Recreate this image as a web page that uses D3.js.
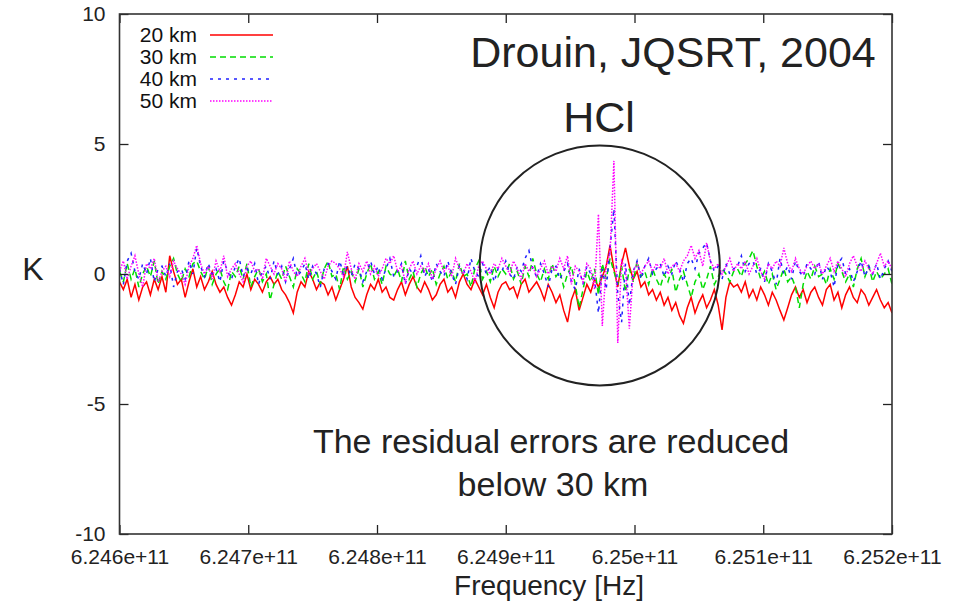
<!DOCTYPE html>
<html>
<head>
<meta charset="utf-8">
<script src="https://cdn.jsdelivr.net/npm/d3@7"></script>
<style>
  body { margin: 0; background: #fff; }
  svg { display: block; font-family: "Liberation Sans", Arial, sans-serif; }
</style>
</head>
<body>
<div class="chart"></div>
<script>
// frequency grid (Hz)
var freqStart = 6.246e11, freqStep = 3e6;

var km20 = [
  -0.3,-0.6,-0.2,-0.9,-0.4,-1.0,-0.5,-0.3,-0.8,-0.2,-0.6,-0.1,-0.7,0.7,0.1,-0.4,-0.2,-0.9,-0.3,0.2,
  -0.5,-0.1,-0.6,-0.3,0.1,-0.4,-0.7,-0.5,-0.9,-1.2,-0.8,-0.3,-0.5,0.0,-0.6,-0.2,-0.4,-0.7,-0.3,-0.1,
  -0.4,-0.2,-0.6,-0.8,-1.1,-1.5,-0.7,-0.3,-0.5,0.1,-0.2,-0.6,-0.3,-0.4,-0.8,-0.5,-1.0,-0.6,-0.2,0.3,
  -0.5,-0.9,-1.1,-1.35,-0.8,-0.4,-0.6,-0.2,-0.7,-0.5,-0.9,-1.0,-0.6,-0.3,-0.8,-0.4,-0.1,-0.5,-0.7,-0.3,
  -0.6,-1.0,-0.8,-0.4,-0.2,-0.7,-0.5,-0.9,-0.3,0.0,-0.4,-0.6,-0.2,-0.5,-0.8,-0.4,-0.9,-1.3,-0.7,-0.4,
  -0.3,-0.6,-0.5,-0.9,-0.4,-0.2,-0.7,-0.5,-0.3,-0.6,-1.0,-0.4,-0.7,-1.1,-0.8,-1.4,-1.85,-1.0,-0.6,-1.4,
  -0.9,-0.4,-0.7,-0.2,-0.5,-0.1,0.3,1.1,0.2,-0.5,0.4,1.0,0.3,-0.2,0.1,-0.5,-0.3,-0.8,-0.6,-1.0,
  -0.7,-1.2,-0.9,-1.4,-1.1,-1.6,-1.9,-1.3,-0.9,-1.5,-1.1,-0.8,-1.3,-1.0,-0.6,-1.2,-2.15,-0.9,-0.3,-0.5,
  -0.4,-0.7,-0.3,-0.9,-0.6,-1.0,-0.5,-0.8,-1.2,-0.7,-1.0,-1.4,-1.77,-1.3,-0.8,-0.5,-0.9,-0.6,-1.1,-0.7,
  -0.5,-0.9,-1.2,-0.6,-0.4,-1.0,-0.7,-1.3,-0.8,-0.5,-0.9,-1.1,-0.6,-0.8,-1.2,-0.9,-0.6,-1.0,-1.3,-1.1,-1.5
];
var km30 = [
  0.1,-0.3,0.4,-0.2,0.2,-0.5,0.0,0.3,-0.1,0.5,-0.4,0.1,-0.2,0.3,0.6,0.0,-0.3,0.2,-0.1,0.4,
  0.5,0.1,-0.2,0.3,-0.4,0.0,0.2,-0.3,-0.6,0.1,-0.1,0.3,-0.2,0.4,-0.5,-0.1,0.2,-0.3,0.0,-1.0,
  -0.4,0.1,-0.2,0.3,-0.1,-0.5,0.2,0.0,-0.3,0.4,-0.2,0.1,-0.4,0.2,0.5,-0.1,0.0,-0.6,0.3,-0.2,
  0.1,-0.3,0.2,-0.5,0.0,0.4,-0.2,0.1,-0.4,0.3,0.0,-0.1,0.2,-0.3,0.5,-0.2,0.1,-0.5,0.0,0.3,
  -0.1,0.2,-0.4,0.0,0.3,-0.2,0.1,-0.3,0.4,-0.1,0.0,-0.5,0.2,0.5,-0.2,0.1,-0.3,0.3,-0.1,0.2,
  0.0,0.4,-0.2,0.1,-0.4,0.3,-0.1,0.6,0.0,-0.3,0.2,-0.2,0.4,-0.1,0.1,-0.5,0.0,0.3,-0.4,-1.3,
  -0.6,0.1,-0.3,0.2,-0.8,0.4,-0.2,0.6,0.1,-0.4,0.3,-0.7,0.2,-0.3,0.5,-0.1,0.1,-0.4,0.2,-0.2,
  -0.5,0.0,-0.3,0.2,-0.7,-0.2,0.1,-0.4,-0.9,-0.3,0.0,-0.6,-0.2,0.3,-0.4,-0.1,0.2,0.0,-0.3,0.1,
  0.2,-0.1,0.4,0.6,0.9,0.3,-0.2,0.1,-0.4,0.0,-0.6,-0.2,0.2,-0.3,-0.1,-0.5,-1.3,-0.4,0.1,-0.2,
  0.3,-0.1,0.0,-0.4,0.2,-0.2,0.4,0.1,-0.3,0.0,-0.5,0.2,0.6,-0.1,0.3,-0.3,0.1,-0.2,0.0,0.2,-0.4
];
var km40 = [
  0.2,-0.4,0.5,0.8,0.1,-0.2,0.4,0.0,0.6,-0.3,0.2,0.3,-0.1,0.4,-0.5,0.1,0.2,-0.2,0.5,0.0,
  1.0,0.3,-0.1,0.4,0.0,0.2,-0.3,0.5,0.1,-0.2,0.3,0.6,-0.1,0.2,0.0,0.4,-0.4,0.1,0.3,-0.2,
  0.5,0.0,0.3,-0.3,0.2,0.6,-0.1,0.1,0.4,-0.2,0.3,0.0,-0.5,0.2,0.4,0.1,-0.2,0.5,0.0,0.3,
  -0.1,0.4,0.2,-0.3,0.1,0.5,0.0,0.3,-0.2,0.2,0.6,-0.1,0.1,0.4,-0.4,0.2,0.0,0.3,0.7,-0.1,
  0.2,-0.3,0.4,0.1,-0.1,0.5,0.0,-0.4,0.3,0.2,-0.2,0.6,0.1,-0.1,0.4,0.0,0.3,-0.3,0.2,0.1,
  0.5,0.0,-0.2,0.3,0.1,0.6,0.9,0.2,-0.1,0.4,0.0,-0.5,0.2,0.3,-0.2,0.1,0.4,-0.3,-0.6,0.2,
  -0.4,0.3,0.0,-0.2,-1.5,0.2,-0.6,1.0,2.5,-0.8,-1.85,0.4,-1.2,0.1,0.5,-0.2,0.3,0.6,0.0,0.2,
  0.4,-0.1,0.3,0.0,0.5,0.2,-0.3,0.4,0.6,0.2,0.8,1.0,1.2,0.5,0.1,0.3,-0.2,0.4,0.0,0.2,
  0.3,0.7,0.1,0.4,0.5,0.0,0.2,-0.3,0.4,0.1,-0.4,0.6,0.0,0.3,-0.2,0.5,0.1,-0.1,0.4,0.2,
  0.0,0.5,-0.2,0.3,0.1,-0.5,0.4,0.6,0.0,0.2,-0.3,0.1,0.5,-0.1,0.3,0.0,0.4,-0.2,0.2,0.5,0.1
];
var km50 = [
  0.1,0.5,-0.2,0.3,0.7,0.0,-0.5,0.4,0.2,0.6,-0.3,0.1,0.3,-0.1,0.5,0.2,0.0,-0.4,0.3,0.6,
  1.1,0.4,0.0,0.3,-0.2,0.5,0.1,0.7,-0.1,0.2,0.4,0.0,-0.3,0.3,0.5,0.1,0.2,-0.2,0.6,0.3,
  0.0,0.4,0.2,-0.3,0.5,0.1,-0.1,0.3,0.6,0.0,0.2,0.4,0.1,-0.2,0.3,0.5,0.4,0.2,-0.1,0.85,
  0.2,-0.2,0.4,0.1,0.5,0.0,0.3,-0.1,0.2,0.6,0.4,0.7,0.1,0.3,-0.3,0.2,0.5,0.0,0.3,0.1,
  0.4,-0.2,0.2,0.5,0.1,0.3,-0.1,0.6,0.2,0.0,0.4,0.1,-0.3,0.3,0.5,0.2,0.0,0.4,0.2,0.6,
  0.3,0.0,0.5,0.2,-0.2,0.4,0.1,0.3,-0.1,0.2,0.5,0.0,0.3,0.1,0.6,0.2,0.7,-0.4,0.3,0.1,
  -0.3,0.4,0.2,-0.6,2.3,-2.0,0.3,0.8,4.35,-2.65,0.5,0.2,-2.1,0.1,0.4,0.0,0.3,0.5,0.1,0.4,
  0.2,0.6,0.0,0.3,0.4,0.1,0.5,0.7,1.1,0.6,0.9,0.3,1.2,0.5,0.2,0.4,0.0,0.3,0.6,0.1,
  0.4,0.2,0.5,0.0,0.3,0.6,0.1,-0.2,0.4,0.2,0.5,0.3,1.0,0.4,0.1,0.6,0.2,0.0,0.3,0.5,
  0.2,0.4,0.0,0.3,0.6,0.1,0.5,0.2,-0.1,0.4,0.7,0.3,0.1,0.5,0.2,0.0,0.4,0.8,0.3,0.5,0.2
];

var seriesNames = ["20 km", "30 km", "40 km", "50 km"];
var seriesValues = [km20, km30, km40, km50];
var xTicks = [6.246e11, 6.247e11, 6.248e11, 6.249e11, 6.25e11, 6.251e11, 6.252e11];
var xTickLabels = ["6.246e+11", "6.247e+11", "6.248e+11", "6.249e+11", "6.25e+11", "6.251e+11", "6.252e+11"];
var yTicks = [-10, -5, 0, 5, 10];
var yTickLabels = ["-10", "-5", "0", "5", "10"];

var width = 965, height = 604;
var plotLeft = 119.5, plotRight = 892, plotTop = 14, plotBottom = 534;

var colors = ["#ff0000", "#00dd00", "#2020ff", "#ff00ff"];
var dashes = [null, "6,4", "3,5", "1.5,1.5"];

var svg = d3.select(".chart").append("svg")
  .attr("width", width)
  .attr("height", height);

var x = d3.scaleLinear().domain([6.246e11, 6.252e11]).range([plotLeft, plotRight]);
var y = d3.scaleLinear().domain([-10, 10]).range([plotBottom, plotTop]);

var line = d3.line()
  .x(function(d, i){ return x(freqStart + i * freqStep); })
  .y(function(d){ return y(d); });

svg.append("clipPath").attr("id", "plot")
  .append("rect").attr("x", plotLeft).attr("y", plotTop)
  .attr("width", plotRight - plotLeft).attr("height", plotBottom - plotTop);

svg.append("g").attr("clip-path", "url(#plot)")
  .selectAll("path").data(seriesValues)
  .enter().append("path")
  .attr("d", line)
  .style("fill", "none")
  .style("stroke", function(d, i){ return colors[i]; })
  .style("stroke-width", "1.5px")
  .style("stroke-dasharray", function(d, i){ return dashes[i]; });

// axes: gnuplot style, ticks inward on all sides
function fmt(labels, ticks){ return function(d){ return labels[ticks.indexOf(d)]; }; }

var ax = svg.append("g").attr("transform", "translate(0," + plotBottom + ")")
  .call(d3.axisBottom(x).tickValues(xTicks).tickFormat(fmt(xTickLabels, xTicks)).tickSize(-9).tickPadding(15));
var axTop = svg.append("g").attr("transform", "translate(0," + plotTop + ")")
  .call(d3.axisTop(x).tickValues(xTicks).tickFormat("").tickSize(-9));
var ay = svg.append("g").attr("transform", "translate(" + plotLeft + ",0)")
  .call(d3.axisLeft(y).tickValues(yTicks).tickFormat(fmt(yTickLabels, yTicks)).tickSize(-9).tickPadding(14));
var ayR = svg.append("g").attr("transform", "translate(" + plotRight + ",0)")
  .call(d3.axisRight(y).tickValues(yTicks).tickFormat("").tickSize(-9));

[ax, axTop, ay, ayR].forEach(function(g){
  g.select(".domain").remove();
  g.selectAll(".tick line").style("stroke", "#222").style("stroke-width", "1.3px");
  g.selectAll(".tick text").style("font-size", "21px").style("fill", "#222")
    .style("font-family", "'Liberation Sans', Arial, sans-serif");
});

svg.append("rect")
  .attr("x", plotLeft).attr("y", plotTop)
  .attr("width", plotRight - plotLeft).attr("height", plotBottom - plotTop)
  .style("fill", "none").style("stroke", "#333").style("stroke-width", "1.6px");

// legend
var legend = svg.append("g");
seriesNames.forEach(function(name, i){
  var ly = 35 + i * 22;
  legend.append("text").attr("x", 197).attr("y", ly + 7)
    .attr("text-anchor", "end")
    .style("font-size", "21px").style("fill", "#111")
    .text(name);
  legend.append("line")
    .attr("x1", 210).attr("x2", 273).attr("y1", ly).attr("y2", ly)
    .style("stroke", colors[i]).style("stroke-width", "1.5px")
    .style("stroke-dasharray", dashes[i]);
});

// annotation circle around the HCl line
svg.append("circle")
  .attr("cx", x(6.24973e11)).attr("cy", y(0.33)).attr("r", 120)
  .style("fill", "none").style("stroke", "#222").style("stroke-width", "2px");

var ann = svg.append("g").style("fill", "#222");
ann.append("text").attr("x", 673).attr("y", 67).attr("text-anchor", "middle")
  .style("font-size", "43px").text("Drouin, JQSRT, 2004");
ann.append("text").attr("x", 599).attr("y", 132).attr("text-anchor", "middle")
  .style("font-size", "43px").text("HCl");
ann.append("text").attr("x", 551).attr("y", 453).attr("text-anchor", "middle")
  .style("font-size", "34px").text("The residual errors are reduced");
ann.append("text").attr("x", 553).attr("y", 496).attr("text-anchor", "middle")
  .style("font-size", "34px").text("below 30 km");

svg.append("text").attr("x", 33).attr("y", 280).attr("text-anchor", "middle")
  .style("font-size", "32px").style("fill", "#222").text("K");
svg.append("text").attr("x", 549).attr("y", 595).attr("text-anchor", "middle")
  .style("font-size", "28px").style("fill", "#222").text("Frequency [Hz]");
</script>
</body>
</html>
